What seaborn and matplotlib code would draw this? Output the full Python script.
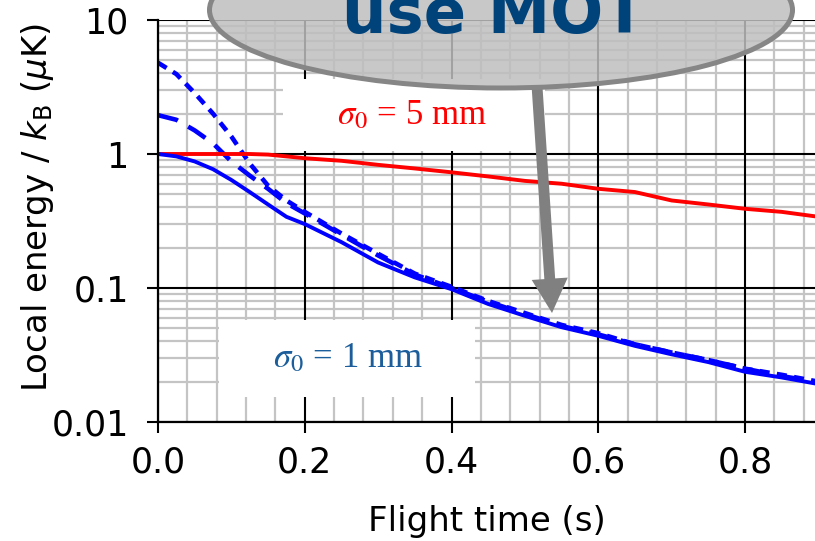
import matplotlib
matplotlib.use("Agg")
import matplotlib.pyplot as plt
import seaborn as sns
import pandas as pd
from matplotlib.patches import Ellipse, Rectangle, FancyArrowPatch
from matplotlib.transforms import IdentityTransform
from matplotlib.ticker import MultipleLocator, LogLocator, FixedLocator, FixedFormatter, NullFormatter

# ---------------- data ----------------
t = [0.0, 0.025, 0.05, 0.075, 0.1, 0.125, 0.15, 0.175, 0.2, 0.25, 0.3, 0.35,
     0.4, 0.45, 0.5, 0.55, 0.6, 0.65, 0.7, 0.75, 0.8, 0.85, 0.9]
red_5mm = [1.0, 1.0, 1.0, 1.0, 1.0, 1.0, 0.99, 0.96, 0.93, 0.89, 0.83, 0.78,
           0.73, 0.68, 0.63, 0.60, 0.55, 0.52, 0.45, 0.42, 0.39, 0.37, 0.34]
blue_1mm = [1.0, 0.96, 0.88, 0.77, 0.64, 0.52, 0.42, 0.34, 0.30, 0.22, 0.155, 0.12,
            0.098, 0.076, 0.062, 0.051, 0.044, 0.037, 0.032, 0.028, 0.0237, 0.0215, 0.0192]
blue_dash_short = [4.8, 3.95, 2.85, 2.0, 1.35, 0.85, 0.58, 0.45, 0.37, 0.255, 0.18, 0.128,
                   0.102, 0.080, 0.065, 0.053, 0.046, 0.038, 0.033, 0.029, 0.025, 0.0225, 0.020]
blue_dash_long = [1.95, 1.8, 1.5, 1.2, 0.88, 0.69, 0.55, 0.43, 0.36, 0.25, 0.175, 0.126,
                  0.100, 0.079, 0.064, 0.052, 0.045, 0.038, 0.033, 0.029, 0.025, 0.022, 0.0198]
xticks = [0.0, 0.2, 0.4, 0.6, 0.8]
xticklabels = ["0.0", "0.2", "0.4", "0.6", "0.8"]
yticks = [0.01, 0.1, 1, 10]
yticklabels = ["0.01", "0.1", "1", "10"]

# ---------------- style ----------------
sns.set_style("white")
plt.rcParams["font.family"] = ["DejaVu Sans"]
plt.rcParams["mathtext.fontset"] = "dejavusans"
plt.rcParams["text.color"] = "black"

W, H = 815, 541
fig = plt.figure(figsize=(W / 100, H / 100), dpi=100)
L, R, B, T = 158, 815, 422, 20
ax = fig.add_axes([L / W, (H - B) / H, (R - L) / W, (B - T) / H])

df = pd.DataFrame({"t": t, "red": red_5mm, "blue": blue_1mm,
                   "ds": blue_dash_short, "dl": blue_dash_long})

sns.lineplot(data=df, x="t", y="red", ax=ax, color="#ff0000", lw=2.8, zorder=5)
sns.lineplot(data=df, x="t", y="blue", ax=ax, color="#0000ff", lw=2.8, zorder=5)
sns.lineplot(data=df, x="t", y="ds", ax=ax, color="#0000ff", lw=3.3, zorder=4)
ax.lines[-1].set_dashes([2.2, 1.6])
sns.lineplot(data=df, x="t", y="dl", ax=ax, color="#0000ff", lw=3.3, zorder=4)
ax.lines[-1].set_dashes([4.5, 2.6])

ax.set_yscale("log")
ax.set_ylim(0.01, 10)
ax.set_xlim(0.0, 0.8954)

ax.xaxis.set_major_locator(FixedLocator(xticks))
ax.xaxis.set_major_formatter(FixedFormatter(xticklabels))
ax.xaxis.set_minor_locator(MultipleLocator(0.04))
ax.yaxis.set_major_locator(FixedLocator(yticks))
ax.yaxis.set_major_formatter(FixedFormatter(yticklabels))
ax.yaxis.set_minor_locator(LogLocator(base=10, subs=range(2, 10), numticks=20))
ax.yaxis.set_minor_formatter(NullFormatter())

ax.set_axisbelow(True)
ax.grid(which="minor", color="#c4c4c4", lw=1.6)
ax.grid(which="major", visible=False)
# major grid drawn above the minor grid
for xv in xticks:
    ax.axvline(xv, color="black", lw=1.5, zorder=0.8)
for yv in yticks:
    ax.axhline(yv, color="black", lw=1.5, zorder=0.8)

ax.tick_params(which="major", direction="out", length=8, width=1.5, color="black",
               labelcolor="black", labelsize=25, bottom=True, left=True)
ax.tick_params(axis="x", which="major", pad=9)
ax.tick_params(axis="y", which="major", pad=13)
ax.tick_params(which="minor", length=0)
for s in ["top", "right"]:
    ax.spines[s].set_visible(False)
for s in ["left", "bottom"]:
    ax.spines[s].set_color("black")
    ax.spines[s].set_linewidth(1.6)
    ax.spines[s].set_zorder(6)
ax.set_xlabel("")
ax.set_ylabel("")

ID = IdentityTransform()
# axis labels
fig.text(487, H - 521, "Flight time (s)", transform=ID, ha="center", va="center",
         fontsize=24.5, color="black")
fig.text(38, H - 208, r"Local energy / $\mathit{k}_{\mathrm{B}}$ ($\mathit{\mu}$K)",
         transform=ID, ha="center", va="center", rotation=90, fontsize=24.5,
         color="black")

# white label boxes
ax.add_patch(Rectangle((283, H - 151), 262, 72, transform=ID, fc="white", ec="none",
                       zorder=1.5, clip_on=False))
ax.add_patch(Rectangle((219, H - 397), 256, 77, transform=ID, fc="white", ec="none",
                       zorder=1.5, clip_on=False))

fig.text(412, H - 116, r"$\sigma_0$ = 5 mm", transform=ID, ha="center",
         va="center", color="#ff0000", fontsize=25, family="Liberation Serif",
         math_fontfamily="stix")
fig.text(348, H - 359, r"$\sigma_0$ = 1 mm", transform=ID, ha="center",
         va="center", color="#1b5e9b", fontsize=25, family="Liberation Serif",
         math_fontfamily="stix")

# ellipse callout
fig.add_artist(Ellipse((501, H - 10), 583, 156, transform=ID,
                       fc=(0.75, 0.75, 0.75, 0.85), ec="#868686", lw=3.6, zorder=10))
fig.text(494, H - 33, "use MOT", transform=ID, ha="center", va="baseline",
         fontsize=45, fontweight="bold", color="#00427a", zorder=11)

# arrow
arr = FancyArrowPatch((537, H - 86), (552, H - 313), transform=ID,
                      arrowstyle="simple,head_length=0.95,head_width=1.0,tail_width=0.3",
                      mutation_scale=26, fc="#808080", ec="none", zorder=9,
                      shrinkA=0, shrinkB=0)
fig.add_artist(arr)

fig.savefig("out.png", dpi=100)
